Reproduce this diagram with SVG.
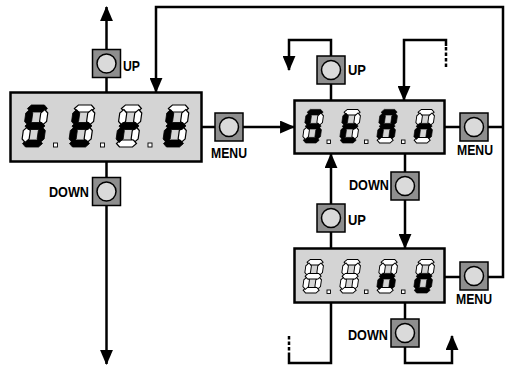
<svg xmlns="http://www.w3.org/2000/svg" width="509" height="371" viewBox="0 0 509 371">
<style>
.bg{fill:#fff}
.disp{fill:#d4d4d4;stroke:#000;stroke-width:2.5}
.btn{fill:#8e8e8e;stroke:#000;stroke-width:1.5}
.knob{fill:#dadada;stroke:#000;stroke-width:1.5}
.ln{fill:none;stroke:#000;stroke-width:2.5}
.dash{fill:none;stroke:#000;stroke-width:2.5;stroke-dasharray:3.5 2}
.arr{fill:none;stroke:#000;stroke-width:2.5;marker-end:url(#ah)}
.on{fill:#000;stroke:#000;stroke-width:0.8}
.off{fill:#fff;stroke:#000;stroke-width:1.2}
.dot{fill:#fff;stroke:#000;stroke-width:0.9}
.lbl{font-family:"Liberation Sans",Arial,sans-serif;font-weight:bold;font-size:15px;fill:#000}
</style>
<defs>
<marker id="ah" viewBox="0 0 14 12" markerWidth="15" markerHeight="13" refX="13" refY="6" orient="auto" markerUnits="userSpaceOnUse">
<path d="M0,0 L14,6 L0,12 z" fill="#000"/>
</marker>
<polygon id="sa" points="1,3.5 4.5,0 17.5,0 21,3.5 17.5,7 4.5,7"/>
<polygon id="sg" points="1,21 4.5,17.5 17.5,17.5 21,21 17.5,24.5 4.5,24.5"/>
<polygon id="sd" points="1,38.5 4.5,35 17.5,35 21,38.5 17.5,42 4.5,42"/>
<polygon id="sf" points="3.5,4.5 7,8 7,16.5 3.5,20 0,16.5 0,8"/>
<polygon id="sb" points="18.5,4.5 22,8 22,16.5 18.5,20 15,16.5 15,8"/>
<polygon id="se" points="3.5,22 7,25.5 7,34 3.5,37.5 0,34 0,25.5"/>
<polygon id="sc" points="18.5,22 22,25.5 22,34 18.5,37.5 15,34 15,25.5"/>
<g id="dS"><use href="#sa" class="on"/><use href="#sb" class="off"/><use href="#sc" class="on"/><use href="#sd" class="on"/><use href="#se" class="off"/><use href="#sf" class="on"/><use href="#sg" class="on"/></g>
<g id="dt"><use href="#sa" class="off"/><use href="#sb" class="off"/><use href="#sc" class="off"/><use href="#sd" class="on"/><use href="#se" class="on"/><use href="#sf" class="on"/><use href="#sg" class="on"/></g>
<g id="dr"><use href="#sa" class="off"/><use href="#sb" class="off"/><use href="#sc" class="off"/><use href="#sd" class="off"/><use href="#se" class="on"/><use href="#sf" class="off"/><use href="#sg" class="on"/></g>
<g id="dA"><use href="#sa" class="on"/><use href="#sb" class="on"/><use href="#sc" class="on"/><use href="#sd" class="off"/><use href="#se" class="on"/><use href="#sf" class="on"/><use href="#sg" class="on"/></g>
<g id="dn"><use href="#sa" class="off"/><use href="#sb" class="off"/><use href="#sc" class="on"/><use href="#sd" class="off"/><use href="#se" class="on"/><use href="#sf" class="off"/><use href="#sg" class="on"/></g>
<g id="do"><use href="#sa" class="off"/><use href="#sb" class="off"/><use href="#sc" class="on"/><use href="#sd" class="on"/><use href="#se" class="on"/><use href="#sf" class="off"/><use href="#sg" class="on"/></g>
<g id="d8"><use href="#sa" class="off"/><use href="#sb" class="off"/><use href="#sc" class="off"/><use href="#sd" class="off"/><use href="#se" class="off"/><use href="#sf" class="off"/><use href="#sg" class="off"/></g>
<g id="button"><rect class="btn" x="0" y="0" width="28" height="28"/><circle class="knob" cx="14" cy="14" r="9.5"/></g>
</defs>
<rect class="bg" x="0" y="0" width="509" height="371"/>

<g id="connectors">
<path class="arr" d="M106.5,49 V7"/>
<path class="ln" d="M106.5,78 V92"/>
<path class="ln" d="M106.5,162 V177"/>
<path class="arr" d="M106.5,205 V364"/>
<path class="ln" d="M201,127 H215"/>
<path class="arr" d="M243,127 H294"/>
<path class="arr" d="M488,277 H503 V7 H156 V92"/>
<path class="ln" d="M445,127 H460 M488,127 H503"/>
<path class="ln" d="M331,100 V84"/>
<path class="arr" d="M331,56 V40 H289 V70"/>
<path class="arr" d="M446,46 V40 H404 V100"/>
<path class="dash" d="M446,47 V67"/>
<path class="ln" d="M405,154 V172"/>
<path class="arr" d="M405,200 V248"/>
<path class="arr" d="M331,204 V154"/>
<path class="ln" d="M331,232 V248"/>
<path class="ln" d="M444,277 H460"/>
<path class="ln" d="M405,303 V319"/>
<path class="arr" d="M405,347 V363 H452 V336"/>
<path class="ln" d="M331,303 V363 H289 V356"/>
<path class="dash" d="M289,356 V336"/>
</g>

<g id="display-start">
<rect class="disp" x="10.5" y="92.5" width="191" height="69"/>
<use href="#dS" transform="translate(21,147) skewX(-8) translate(0,-42)"/>
<use href="#dt" transform="translate(68,147) skewX(-8) translate(0,-42)"/>
<use href="#dr" transform="translate(115,147) skewX(-8) translate(0,-42)"/>
<use href="#dt" transform="translate(162,147) skewX(-8) translate(0,-42)"/>
<rect class="dot" x="53.5" y="143" width="4" height="4"/>
<rect class="dot" x="100.5" y="143" width="4" height="4"/>
<rect class="dot" x="148" y="143" width="4" height="4"/>
</g>

<g id="display-stan">
<rect class="disp" x="294.5" y="100.5" width="150" height="53"/>
<use href="#dS" transform="translate(302,143) scale(0.8) skewX(-8) translate(0,-42)"/>
<use href="#dt" transform="translate(339,143) scale(0.8) skewX(-8) translate(0,-42)"/>
<use href="#dA" transform="translate(376,143) scale(0.8) skewX(-8) translate(0,-42)"/>
<use href="#dn" transform="translate(413,143) scale(0.8) skewX(-8) translate(0,-42)"/>
<rect class="dot" x="327" y="140" width="3.5" height="3.5"/>
<rect class="dot" x="364.5" y="140" width="3.5" height="3.5"/>
<rect class="dot" x="401.5" y="140" width="3.5" height="3.5"/>
</g>

<g id="display-no">
<rect class="disp" x="294.5" y="248.5" width="150" height="54"/>
<use href="#d8" transform="translate(302,293) scale(0.8) skewX(-8) translate(0,-42)"/>
<use href="#d8" transform="translate(339,293) scale(0.8) skewX(-8) translate(0,-42)"/>
<use href="#dn" transform="translate(376,293) scale(0.8) skewX(-8) translate(0,-42)"/>
<use href="#do" transform="translate(413,293) scale(0.8) skewX(-8) translate(0,-42)"/>
<rect class="dot" x="327" y="290" width="3.5" height="3.5"/>
<rect class="dot" x="364.5" y="290" width="3.5" height="3.5"/>
<rect class="dot" x="401.5" y="290" width="3.5" height="3.5"/>
</g>

<g id="btn-up-left"><use href="#button" x="92.5" y="49.5"/><text class="lbl" x="123" y="71" textLength="17" lengthAdjust="spacingAndGlyphs">UP</text></g>
<g id="btn-down-left"><use href="#button" x="92.5" y="177.5"/><text class="lbl" x="49" y="197" textLength="40" lengthAdjust="spacingAndGlyphs">DOWN</text></g>
<g id="btn-menu-left"><use href="#button" x="215" y="113"/><text class="lbl" x="211" y="158" textLength="36" lengthAdjust="spacingAndGlyphs">MENU</text></g>
<g id="btn-up-mid"><use href="#button" x="317" y="56"/><text class="lbl" x="348" y="75" textLength="18" lengthAdjust="spacingAndGlyphs">UP</text></g>
<g id="btn-menu-mid"><use href="#button" x="460" y="113"/><text class="lbl" x="457" y="155" textLength="36" lengthAdjust="spacingAndGlyphs">MENU</text></g>
<g id="btn-down-mid"><use href="#button" x="391" y="172"/><text class="lbl" x="349" y="190" textLength="40" lengthAdjust="spacingAndGlyphs">DOWN</text></g>
<g id="btn-up-low"><use href="#button" x="317" y="204"/><text class="lbl" x="348" y="225" textLength="18" lengthAdjust="spacingAndGlyphs">UP</text></g>
<g id="btn-menu-low"><use href="#button" x="460" y="262"/><text class="lbl" x="456" y="304" textLength="36" lengthAdjust="spacingAndGlyphs">MENU</text></g>
<g id="btn-down-low"><use href="#button" x="391" y="319"/><text class="lbl" x="348" y="340" textLength="40" lengthAdjust="spacingAndGlyphs">DOWN</text></g>
</svg>
